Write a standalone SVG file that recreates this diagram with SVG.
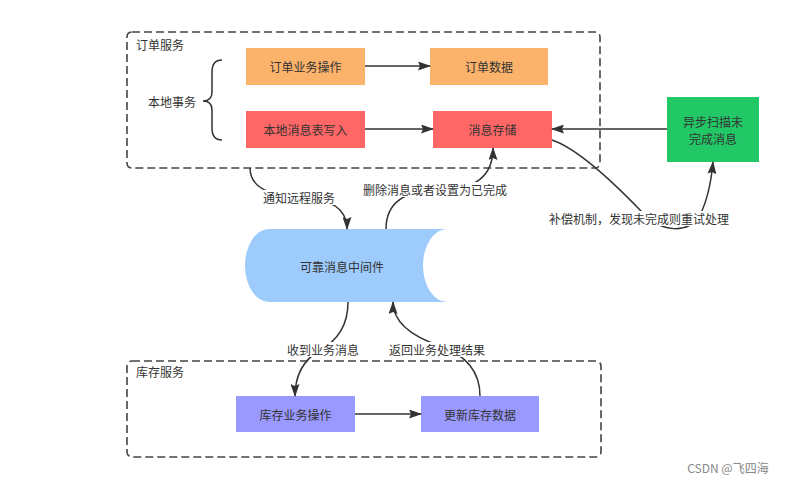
<svg xmlns="http://www.w3.org/2000/svg" width="792" height="484" viewBox="0 0 792 484">
<defs>
<style>
text{font-family:"Noto Sans CJK SC","Noto Sans",sans-serif;font-size:12px;fill:#333;text-anchor:middle;dominant-baseline:central}
.box{stroke:none}
.cont{fill:none;stroke:#444;stroke-width:1.6;stroke-dasharray:8,4}
.edge{fill:none;stroke:#333;stroke-width:1.5}
.lbl{fill:#fff;stroke:none}
.cl{text-anchor:start}
</style>
<marker id="ah" viewBox="0 0 13 9" refX="12" refY="4.5" markerWidth="13" markerHeight="9" markerUnits="userSpaceOnUse" orient="auto">
<path d="M0,0 L13,4.5 L0,9 L2,4.5 z" fill="#333"/>
</marker>
</defs>
<rect width="792" height="484" fill="#fff"/>
<g id="order-service">
<rect class="cont" x="127" y="32" width="473" height="136" rx="5"/>
<text class="cl" x="136" y="44">订单服务</text>
</g>
<g id="inventory-service">
<rect class="cont" x="127" y="361" width="474" height="96" rx="5"/>
<text class="cl" x="136" y="371">库存服务</text>
</g>
<g id="local-tx">
<path d="M222,60 Q212,60 212,72 L212,92 Q212,101 203,101 Q212,101 212,110 L212,128 Q212,140 222,140" fill="none" stroke="#333" stroke-width="1.5"/>
<text x="172" y="101">本地事务</text>
</g>
<g id="order-op">
<rect class="box" x="246" y="48" width="119" height="37" fill="#FBB26B"/>
<text x="305.5" y="66.5">订单业务操作</text>
</g>
<g id="order-data">
<rect class="box" x="430" y="48" width="118" height="37" fill="#FBB26B"/>
<text x="489" y="66.5">订单数据</text>
</g>
<g id="local-msg-write">
<rect class="box" x="246" y="111" width="119" height="37" fill="#FF6666"/>
<text x="305.5" y="129.5">本地消息表写入</text>
</g>
<g id="msg-store">
<rect class="box" x="433" y="111" width="119" height="37" fill="#FF6666"/>
<text x="492.5" y="129.5">消息存储</text>
</g>
<g id="async-scan">
<rect class="box" x="667" y="97" width="92" height="65" fill="#22C866"/>
<text x="713" y="121">异步扫描未</text>
<text x="713" y="138">完成消息</text>
</g>
<g id="mq">
<path d="M269,229 L447,229 A24,36.5 0 0 0 447,302 L269,302 A24,36.5 0 0 1 269,229 Z" fill="#9DCBFB"/>
<text x="342" y="266">可靠消息中间件</text>
</g>
<g id="inv-op">
<rect class="box" x="236" y="396" width="119" height="36" fill="#9999FF"/>
<text x="295.5" y="414">库存业务操作</text>
</g>
<g id="inv-update">
<rect class="box" x="421" y="396" width="118" height="36" fill="#9999FF"/>
<text x="480" y="414">更新库存数据</text>
</g>
<g id="connectors">
<path class="edge" d="M365,66 L430,66" marker-end="url(#ah)"/>
<path class="edge" d="M365,129 L433,129" marker-end="url(#ah)"/>
<path class="edge" d="M667,129 L552,129" marker-end="url(#ah)"/>
<path class="edge" d="M355,414 L421,414" marker-end="url(#ah)"/>
<path class="edge" d="M250,168 Q250,195 300,197 Q347,199 347,229" marker-end="url(#ah)"/>
<path class="edge" d="M386,229 Q386,190 440,190 Q493,190 493,148" marker-end="url(#ah)"/>
<path class="edge" d="M552,140 Q582,150 640,210 C660,234 690,234 700,215 Q710,195 713,162" marker-end="url(#ah)"/>
<path class="edge" d="M348,302 Q348,335 320,350 Q295,365 295,396" marker-end="url(#ah)"/>
<path class="edge" d="M480,396 Q480,360 440,346 Q393,330 393,302" marker-end="url(#ah)"/>
<rect class="lbl" x="261" y="190" width="76" height="15"/>
<text x="299" y="197">通知远程服务</text>
<rect class="lbl" x="362" y="182" width="146" height="15"/>
<text x="435" y="189">删除消息或者设置为已完成</text>
<rect class="lbl" x="547" y="211" width="184" height="15"/>
<text x="639" y="218">补偿机制，发现未完成则重试处理</text>
<rect class="lbl" x="285" y="342" width="77" height="15"/>
<text x="323" y="349">收到业务消息</text>
<rect class="lbl" x="386" y="342" width="102" height="15"/>
<text x="437" y="349">返回业务处理结果</text>
</g>
<text x="728" y="467" style="font-size:12px;fill:#888">CSDN @飞四海</text>
</svg>
